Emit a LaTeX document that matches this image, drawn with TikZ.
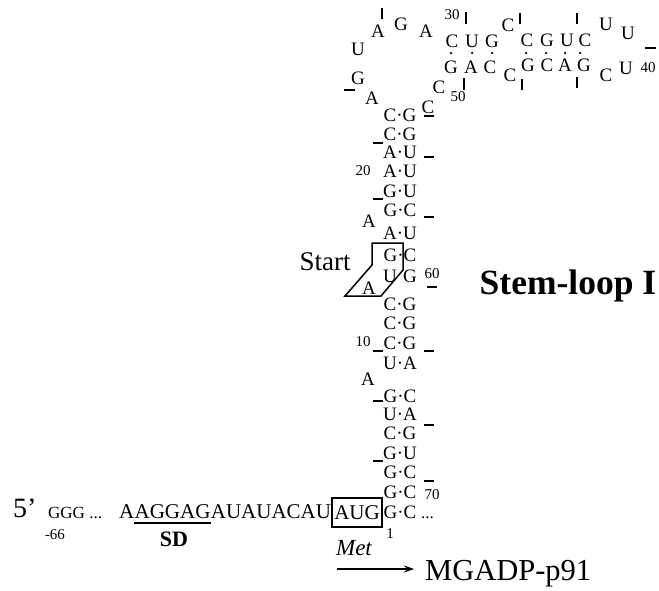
\documentclass[tikz,border=0pt]{standalone}
\usepackage{fontspec}
\setmainfont{Liberation Serif}
\usetikzlibrary{arrows.meta}
\begin{document}
\begin{tikzpicture}[x=1pt,y=-1pt,
  nt/.style={inner sep=0pt, font=\fontsize{19}{21}\selectfont},
  num/.style={inner sep=0pt, font=\fontsize{15}{17}\selectfont},
  nbar/.style={line width=2.5pt},
  frame/.style={line width=1.5pt},
  pdot/.style={circle, fill, inner sep=0pt, minimum size=2.5pt},
]
\useasboundingbox (0,0) rectangle (659,590);
% ---------- stem pairs ----------
\foreach \l/\r/\y/\n in {C/G/115/p1, C/G/134/p2, A/U/152/p3, A/U/171/p4, G/U/191/p5,
  G/C/210/p6, A/U/233/p7, G/C/255/p8, C/G/304/p10, C/G/323/p11, C/G/343/p12,
  U/A/363/p13, G/C/396/p14, U/A/414/p15, C/G/433/p16, G/U/453/p17, G/C/472/p18,
  G/C/492/p19, G/C/512/p20}
  \node[nt] (\n) at (400,\y) {\l·\r};
\node[nt] (p9) at (400,276) {U\phantom{·}G};
% bulges in the stem
\node[nt] (b1) at (369,221) {A};
\node[nt] (b2) at (369,288) {A};
\node[nt] (b3) at (368,379) {A};
% ---------- loop ----------
\node[nt] (l1) at (372,98) {A};
\node[nt] (l2) at (358,78) {G};
\node[nt] (l3) at (358,49) {U};
\node[nt] (l4) at (378,31) {A};
\node[nt] (l5) at (401,24) {G};
\node[nt] (l6) at (426,31) {A};
\node[nt] (u1) at (452,41) {C};
\node[nt] (u2) at (472,41) {U};
\node[nt] (u3) at (492,41) {G};
\node[nt] (u4) at (508,25) {C};
\node[nt] (u5) at (527,40) {C};
\node[nt] (u6) at (547,40) {G};
\node[nt] (u7) at (567,40) {U};
\node[nt] (u8) at (585,40) {C};
\node[nt] (u9) at (606,24) {U};
\node[nt] (u10) at (628,33) {U};
\node[nt] (u11) at (626,68) {U};
\node[nt] (u12) at (606,75) {C};
\node[nt] (d1) at (584,65) {G};
\node[nt] (d2) at (565,65) {A};
\node[nt] (d3) at (547,65) {C};
\node[nt] (d4) at (528,65) {G};
\node[nt] (d5) at (510,75) {C};
\node[nt] (d6) at (490,67) {C};
\node[nt] (d7) at (471,67) {A};
\node[nt] (d8) at (451,67) {G};
\node[nt] (d9) at (439,87) {C};
\node[nt] (d10) at (428,107) {C};
\foreach \x/\n in {451/k1,472/k2,492/k3,526/k4,546/k5,565/k6,580/k7}
  \node[pdot] (\n) at (\x,53) {};
% ---------- numbers ----------
\node[num] (n30) at (452,15) {30};
\node[num] (n40) at (648,68) {40};
\node[num] (n50) at (458,97) {50};
\node[num] (n20) at (363,171) {20};
\node[num] (n60) at (432,274) {60};
\node[num] (n10) at (363,342) {10};
\node[num] (n70) at (432,495) {70};
% ---------- tick bars ----------
\foreach \x/\a/\b in {382/8/19, 466/12/24, 520/13/24, 577/13/24, 464/78/90, 522/79/90, 577/77/88}
  \draw[nbar] (\x,\a) -- (\x,\b);
\draw[nbar] (645,48) -- (656,48);
\draw[nbar] (344,90) -- (355,90);
\foreach \y in {143,199,351,401,461}
  \draw[nbar] (373,\y) -- (383,\y);
\foreach \y in {116,157,217,351,425,481}
  \draw[nbar] (424,\y) -- (434,\y);
\draw[nbar] (427,287) -- (437,287);
% ---------- start codon frame ----------
\draw[frame] (372,243) -- (403,243) -- (403,270) -- (381,296) -- (345,296) -- (372,265) -- cycle;
\node[inner sep=0pt, font=\fontsize{27}{30}\selectfont] (start) at (325,262) {Start};
\node[inner sep=0pt, anchor=base, font=\fontsize{35.5}{38}\selectfont\bfseries] (title) at (568,294) {Stem-loop I};
% ---------- bottom sequence ----------
\node[inner sep=0pt, anchor=base west, font=\fontsize{28}{30}\selectfont] (five) at (13,517) {5’};
\node[inner sep=0pt, anchor=base west, font=\fontsize{17}{20}\selectfont] (ggg) at (48,518) {GGG ...};
\node[num] (m66) at (55,535) {-66};
\node[draw, frame, inner sep=0pt, minimum width=50pt, minimum height=29pt,
  font=\fontsize{21}{24}\selectfont] (aug) at (357,512.5) {AUG};
\node[inner sep=0pt, anchor=base east, font=\fontsize{21}{24}\selectfont] (s3) at (aug.west |- 0,518) {AUAUACAU};
\node[inner sep=0pt, anchor=base east, font=\fontsize{21}{24}\selectfont] (sd) at (s3.base west) {AGGAG};
\node[inner sep=0pt, anchor=base east, font=\fontsize{21}{24}\selectfont] (s1) at (sd.base west) {A};
\draw[nbar] ([yshift=-5pt]sd.base west) -- ([yshift=-5pt]sd.base east);
\node[inner sep=0pt, font=\fontsize{22}{24}\selectfont\bfseries] (sdl) at (174,539) {SD};
\node[inner sep=0pt, anchor=base west, font=\fontsize{17}{20}\selectfont] (dots) at (421,518) {...};
\node[num] (n1) at (390,534) {1};
\node[inner sep=0pt, anchor=base, font=\fontsize{23}{26}\selectfont\itshape] (met) at (354,555) {Met};
\node[inner sep=0pt, anchor=base west, font=\fontsize{30.5}{34}\selectfont] (prot) at (425,580) {MGADP-p91};
\coordinate (arrS) at (337,569);
\draw[line width=1.3pt, -{Stealth[length=10pt,width=7pt]}] (arrS) -- ([xshift=-11pt]prot.west |- arrS);
\end{tikzpicture}
\end{document}
